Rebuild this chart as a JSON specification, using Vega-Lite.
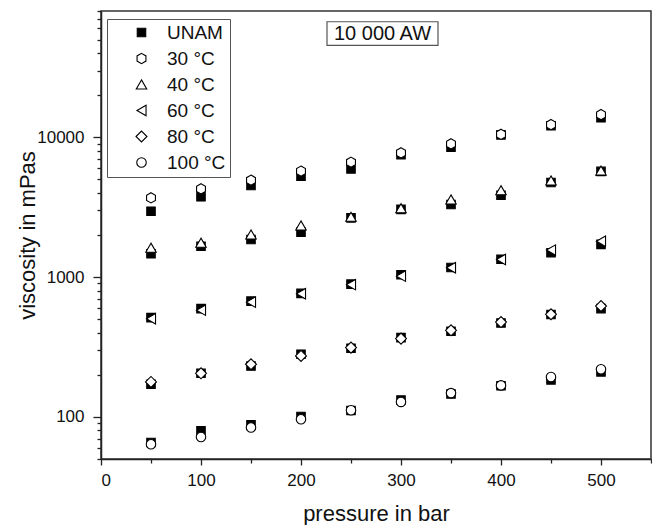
{
  "$schema": "https://vega.github.io/schema/vega-lite/v6.json",
  "autosize": {"type": "none"},
  "width": 550,
  "height": 448,
  "padding": {"left": 101, "top": 11, "right": 1, "bottom": 66},
  "background": "white",
  "datasets": {
    "points": [
      {"p": 50, "v": 2960, "s": "UNAM"}, {"p": 100, "v": 3750, "s": "UNAM"}, {"p": 150, "v": 4520, "s": "UNAM"}, {"p": 200, "v": 5260, "s": "UNAM"}, {"p": 250, "v": 5940, "s": "UNAM"},
      {"p": 300, "v": 7510, "s": "UNAM"}, {"p": 350, "v": 8500, "s": "UNAM"}, {"p": 400, "v": 10400, "s": "UNAM"}, {"p": 450, "v": 12100, "s": "UNAM"}, {"p": 500, "v": 13780, "s": "UNAM"},
      {"p": 50, "v": 1468, "s": "UNAM"}, {"p": 100, "v": 1660, "s": "UNAM"}, {"p": 150, "v": 1858, "s": "UNAM"}, {"p": 200, "v": 2096, "s": "UNAM"}, {"p": 250, "v": 2650, "s": "UNAM"},
      {"p": 300, "v": 3050, "s": "UNAM"}, {"p": 350, "v": 3305, "s": "UNAM"}, {"p": 400, "v": 3850, "s": "UNAM"}, {"p": 450, "v": 4750, "s": "UNAM"}, {"p": 500, "v": 5700, "s": "UNAM"},
      {"p": 50, "v": 513, "s": "UNAM"}, {"p": 100, "v": 595, "s": "UNAM"}, {"p": 150, "v": 673, "s": "UNAM"}, {"p": 200, "v": 765, "s": "UNAM"}, {"p": 250, "v": 890, "s": "UNAM"},
      {"p": 300, "v": 1040, "s": "UNAM"}, {"p": 350, "v": 1170, "s": "UNAM"}, {"p": 400, "v": 1340, "s": "UNAM"}, {"p": 450, "v": 1494, "s": "UNAM"}, {"p": 500, "v": 1714, "s": "UNAM"},
      {"p": 50, "v": 171, "s": "UNAM"}, {"p": 100, "v": 205, "s": "UNAM"}, {"p": 150, "v": 231, "s": "UNAM"}, {"p": 200, "v": 281, "s": "UNAM"}, {"p": 250, "v": 310, "s": "UNAM"},
      {"p": 300, "v": 369, "s": "UNAM"}, {"p": 350, "v": 410, "s": "UNAM"}, {"p": 400, "v": 470, "s": "UNAM"}, {"p": 450, "v": 540, "s": "UNAM"}, {"p": 500, "v": 595, "s": "UNAM"},
      {"p": 50, "v": 65.6, "s": "UNAM"}, {"p": 100, "v": 79.4, "s": "UNAM"}, {"p": 150, "v": 87.7, "s": "UNAM"}, {"p": 200, "v": 100.7, "s": "UNAM"}, {"p": 250, "v": 111, "s": "UNAM"},
      {"p": 300, "v": 132, "s": "UNAM"}, {"p": 350, "v": 146, "s": "UNAM"}, {"p": 400, "v": 167, "s": "UNAM"}, {"p": 450, "v": 184, "s": "UNAM"}, {"p": 500, "v": 210, "s": "UNAM"},
      {"p": 50, "v": 3690, "s": "30 °C"}, {"p": 100, "v": 4280, "s": "30 °C"}, {"p": 150, "v": 4930, "s": "30 °C"}, {"p": 200, "v": 5720, "s": "30 °C"}, {"p": 250, "v": 6630, "s": "30 °C"},
      {"p": 300, "v": 7740, "s": "30 °C"}, {"p": 350, "v": 8970, "s": "30 °C"}, {"p": 400, "v": 10500, "s": "30 °C"}, {"p": 450, "v": 12320, "s": "30 °C"}, {"p": 500, "v": 14520, "s": "30 °C"},
      {"p": 50, "v": 1622, "s": "40 °C"}, {"p": 100, "v": 1762, "s": "40 °C"}, {"p": 150, "v": 2018, "s": "40 °C"}, {"p": 200, "v": 2339, "s": "40 °C"}, {"p": 250, "v": 2700, "s": "40 °C"},
      {"p": 300, "v": 3110, "s": "40 °C"}, {"p": 350, "v": 3590, "s": "40 °C"}, {"p": 400, "v": 4180, "s": "40 °C"}, {"p": 450, "v": 4910, "s": "40 °C"}, {"p": 500, "v": 5780, "s": "40 °C"},
      {"p": 50, "v": 504, "s": "60 °C"}, {"p": 100, "v": 580, "s": "60 °C"}, {"p": 150, "v": 662, "s": "60 °C"}, {"p": 200, "v": 760, "s": "60 °C"}, {"p": 250, "v": 883, "s": "60 °C"},
      {"p": 300, "v": 1016, "s": "60 °C"}, {"p": 350, "v": 1166, "s": "60 °C"}, {"p": 400, "v": 1337, "s": "60 °C"}, {"p": 450, "v": 1560, "s": "60 °C"}, {"p": 500, "v": 1807, "s": "60 °C"},
      {"p": 50, "v": 178, "s": "80 °C"}, {"p": 100, "v": 205, "s": "80 °C"}, {"p": 150, "v": 238, "s": "80 °C"}, {"p": 200, "v": 273, "s": "80 °C"}, {"p": 250, "v": 313, "s": "80 °C"},
      {"p": 300, "v": 363, "s": "80 °C"}, {"p": 350, "v": 416, "s": "80 °C"}, {"p": 400, "v": 477, "s": "80 °C"}, {"p": 450, "v": 542, "s": "80 °C"}, {"p": 500, "v": 621, "s": "80 °C"},
      {"p": 50, "v": 63.8, "s": "100 °C"}, {"p": 100, "v": 71.9, "s": "100 °C"}, {"p": 150, "v": 84, "s": "100 °C"}, {"p": 200, "v": 96.3, "s": "100 °C"}, {"p": 250, "v": 111.6, "s": "100 °C"},
      {"p": 300, "v": 128, "s": "100 °C"}, {"p": 350, "v": 148, "s": "100 °C"}, {"p": 400, "v": 168, "s": "100 °C"}, {"p": 450, "v": 193, "s": "100 °C"}, {"p": 500, "v": 219, "s": "100 °C"}
    ],
    "note": [
      {"x1": 226, "x2": 337, "y1": 45400, "y2": 67000, "xc": 281.5, "yc": 55100, "label": "10 000 AW"}
    ]
  },
  "layer": [
    {
      "data": {"name": "note"},
      "mark": {"type": "rect", "fill": "white", "stroke": "#555", "strokeWidth": 1.2},
      "encoding": {
        "x": {"field": "x1", "type": "quantitative", "scale": {"domain": [0, 550]}},
        "x2": {"field": "x2"},
        "y": {"field": "y1", "type": "quantitative", "scale": {"type": "log", "domain": [50, 80000]}},
        "y2": {"field": "y2"}
      }
    },
    {
      "data": {"name": "note"},
      "mark": {"type": "text", "font": "Liberation Sans", "fontSize": 20, "color": "#111", "align": "center", "baseline": "middle"},
      "encoding": {
        "x": {"field": "xc", "type": "quantitative"},
        "y": {"field": "yc", "type": "quantitative"},
        "text": {"field": "label"}
      }
    },
    {
      "data": {"name": "points"},
      "mark": {"type": "point", "strokeWidth": 1.1, "opacity": 1, "fillOpacity": 1, "strokeOpacity": 1},
      "encoding": {
        "x": {
          "field": "p", "type": "quantitative", "title": "pressure in bar",
          "scale": {"domain": [0, 550], "nice": false},
          "axis": {
            "values": [0, 50, 100, 150, 200, 250, 300, 350, 400, 450, 500, 550],
            "labelExpr": "datum.value % 100 == 0 && datum.value <= 500 ? datum.label : ''",
            "tickSize": {"condition": {"test": "datum.value % 100 == 0", "value": 6}, "value": 4},
            "labelPadding": 7,
            "titlePadding": 15
          }
        },
        "y": {
          "field": "v", "type": "quantitative", "title": "viscosity in mPas",
          "scale": {"type": "log", "domain": [50, 80000], "nice": false},
          "axis": {
            "values": [50, 60, 70, 80, 90, 100, 200, 300, 400, 500, 600, 700, 800, 900, 1000, 2000, 3000, 4000, 5000, 6000, 7000, 8000, 9000, 10000, 20000, 30000, 40000, 50000, 60000, 70000, 80000],
            "labelExpr": "indexof([100, 1000, 10000], datum.value) >= 0 ? format(datum.value, 'd') : ''",
            "tickSize": {"condition": {"test": "indexof([100, 1000, 10000], datum.value) >= 0", "value": 8}, "value": 4},
            "labelOverlap": false,
            "labelPadding": 9,
            "titlePadding": -3
          }
        },
        "shape": {
          "field": "s", "type": "nominal", "title": null,
          "scale": {
            "domain": ["UNAM", "30 °C", "40 °C", "60 °C", "80 °C", "100 °C"],
            "range": ["square", "M0,-1L0.866,-0.5L0.866,0.5L0,1L-0.866,0.5L-0.866,-0.5Z", "triangle-up", "triangle-left", "diamond", "circle"]
          }
        },
        "fill": {
          "field": "s", "type": "nominal", "title": null,
          "scale": {
            "domain": ["UNAM", "30 °C", "40 °C", "60 °C", "80 °C", "100 °C"],
            "range": ["#000000", "#ffffff", "#ffffff", "#ffffff", "#ffffff", "#ffffff"]
          }
        },
        "stroke": {
          "field": "s", "type": "nominal", "title": null,
          "scale": {
            "domain": ["UNAM", "30 °C", "40 °C", "60 °C", "80 °C", "100 °C"],
            "range": ["#000000", "#000000", "#000000", "#000000", "#000000", "#000000"]
          }
        },
        "size": {
          "field": "s", "type": "nominal", "title": null,
          "scale": {
            "type": "ordinal",
            "domain": ["UNAM", "30 °C", "40 °C", "60 °C", "80 °C", "100 °C"],
            "range": [72, 105, 110, 110, 120, 90]
          }
        }
      }
    }
  ],
  "config": {
    "view": {"stroke": "#333", "strokeWidth": 1.5},
    "axis": {
      "grid": false,
      "domainColor": "#222",
      "domainWidth": 1.5,
      "tickColor": "#222",
      "tickWidth": 1.3,
      "labelFont": "Liberation Sans",
      "labelFontSize": 17,
      "labelColor": "#111",
      "titleFont": "Liberation Sans",
      "titleFontSize": 22,
      "titleFontWeight": "normal",
      "titleColor": "#111"
    },
    "legend": {
      "orient": "none",
      "legendX": 6,
      "legendY": 8,
      "direction": "vertical",
      "padding": 4,
      "fillColor": "white",
      "strokeColor": "#555",
      "symbolStrokeWidth": 1.1,
      "symbolOffset": 21,
      "labelOffset": 16,
      "labelFont": "Liberation Sans",
      "labelFontSize": 19,
      "labelColor": "#111",
      "rowPadding": 6
    }
  }
}
